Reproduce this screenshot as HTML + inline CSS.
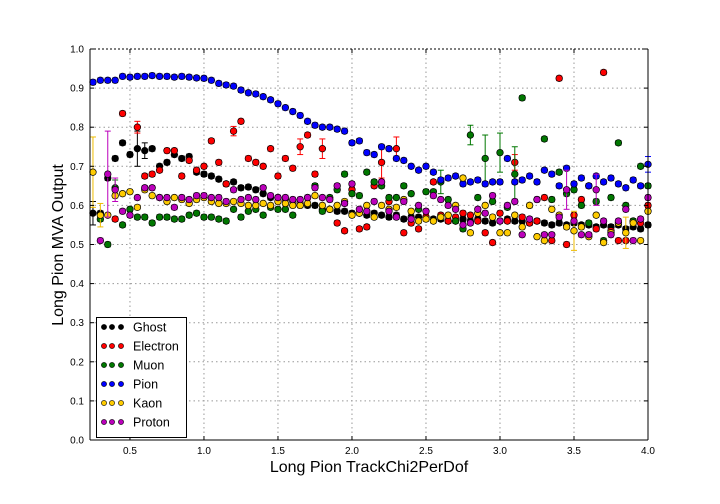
<!DOCTYPE html>
<html><head><meta charset="utf-8"><style>
body{margin:0;background:#fff;width:720px;height:504px;overflow:hidden}
svg{display:block;font-family:"Liberation Sans",sans-serif}
</style></head><body>
<svg id="chart" width="720" height="504">
<g id="grid"></g>
<g id="series"></g>
<g id="axes"></g>
<text x="369" y="472" text-anchor="middle" font-size="16">Long Pion TrackChi2PerDof</text>
<text transform="translate(63,245) rotate(-90)" text-anchor="middle" font-size="16">Long Pion MVA Output</text>
<g id="legend"></g>
</svg>
<script>
const xStart = 0.25, xStep = 0.05;
const seriesNames = ["Ghost","Electron","Muon","Pion","Kaon","Proton"];
const seriesColors = ["#000000","#ff0000","#007700","#0000ff","#ffcc00","#bb00bb"];
const ghostValues = [.58,.58,.67,.72,.76,.73,.745,.74,.745,.70,.71,.73,.72,.725,.685,.68,.675,.667,.655,.66,.645,.647,.64,.63,.62,.62,.615,.61,.605,.60,.60,.59,.59,.585,.585,.58,.58,.575,.58,.575,.57,.575,.565,.57,.57,.57,.565,.565,.56,.56,.565,.56,.565,.56,.555,.56,.565,.56,.56,.555,.56,.555,.55,.555,.55,.555,.55,.55,.545,.55,.545,.55,.54,.545,.54,.55];
const electronValues = [null,null,null,.565,.835,null,.80,.675,.68,.69,.74,.74,.675,.715,.69,.70,.765,.71,.655,.79,.815,.72,.71,.70,.745,.675,.72,.695,.75,.78,.68,.745,null,.555,.535,.64,.54,.545,.65,.71,.61,.745,.53,.555,.54,.57,.66,.575,.56,.57,.58,.575,.56,.53,.505,.58,.56,.71,.57,.555,.56,.62,.51,.925,.50,.575,.615,.65,.54,.94,.535,.51,.51,.56,.555,.60];
const muonValues = [null,.565,.50,.645,.55,.59,.57,.57,.555,.57,.57,.565,.565,.575,.58,.57,.57,.565,.56,.59,.57,.585,.59,.575,.595,.59,.59,.575,.60,.62,.65,.585,.62,.64,.68,.63,.625,.685,.66,.65,.62,.62,.65,.63,.59,.635,.635,.66,.615,.56,.54,.78,.62,.72,.61,.735,.595,.68,.875,.60,.615,.77,.615,.685,.63,.64,.60,.555,.61,.51,.62,.76,.60,.56,.70,.65];
const pionValues = [.915,.92,.92,.92,.93,.928,.93,.93,.932,.93,.93,.928,.93,.928,.926,.925,.92,.912,.908,.905,.895,.888,.885,.878,.87,.86,.85,.84,.83,.815,.805,.80,.80,.795,.79,.76,.765,.735,.73,.75,.745,.72,.715,.70,.69,.70,.685,.665,.67,.675,.655,.66,.665,.655,.66,.66,.72,.66,.665,.675,.66,.69,.68,.65,.695,.655,.67,.65,.675,.66,.67,.655,.645,.665,.65,.705];
const kaonValues = [.685,.575,.575,.625,.63,.635,.595,.64,.625,.62,.61,.62,.615,.605,.615,.62,.61,.605,.605,.61,.605,.60,.60,.605,.60,.61,.605,.60,.60,.605,.625,.60,.59,.60,.61,.575,.58,.60,.57,.60,.59,.595,.615,.585,.56,.565,.56,.57,.575,.60,.67,.53,.58,.60,.57,.53,.53,.575,.545,.60,.52,.51,.59,.575,.545,.535,.545,.52,.575,.505,.53,.555,.53,.555,.51,.585];
const protonValues = [null,.51,.68,.64,.585,.575,.62,.645,.645,.62,.62,.595,.62,.615,.625,.625,.62,.62,.61,.64,.615,.62,.615,.645,.625,.62,.62,.615,.615,.62,.645,.62,.615,.65,.605,.655,.59,.585,.61,.66,.585,.57,.61,.565,.60,.585,.625,.615,.60,.59,.55,.555,.59,.58,.625,.56,.60,.61,.525,.565,.615,.525,.525,.57,.64,.56,.525,.525,.64,.56,.525,.56,.59,.51,.565,.62];
const ghostErrors = [[0,.03],[6,.045],[7,.02]];
const electronErrors = [[6,.015],[19,.012],[28,.02],[31,.025],[39,.04],[41,.03],[57,.02]];
const muonErrors = [[3,.02],[51,.025],[53,.06],[55,.05],[57,.07],[47,.03]];
const pionErrors = [[75,.02]];
const kaonErrors = [[0,.09],[1,.03],[65,.05],[72,.04]];
const protonErrors = [[2,.11],[3,.03],[64,.05],[68,.04]];
const xTicks = [0.5,1.0,1.5,2.0,2.5,3.0,3.5,4.0];
const yTicks = [0.0,0.1,0.2,0.3,0.4,0.5,0.6,0.7,0.8,0.9,1.0];

const L=90,R=648,T=49,B=440,xMin=0.23,xMax=4.0;
const xs=v=>L+(v-xMin)/(xMax-xMin)*(R-L);
const ys=v=>B-v*(B-T);
const NS="http://www.w3.org/2000/svg";
function mk(tag,attrs,parent){const e=document.createElementNS(NS,tag);for(const k in attrs)e.setAttribute(k,attrs[k]);parent.appendChild(e);return e;}
const grid=document.getElementById('grid'),axes=document.getElementById('axes'),ser=document.getElementById('series'),leg=document.getElementById('legend');
mk('rect',{x:L,y:T,width:R-L,height:B-T,fill:'#fff'},grid);
xTicks.forEach(t=>{const x=xs(t);
 const g=mk('line',{x1:x,x2:x,y1:T,y2:B,stroke:'#999','stroke-dasharray':'1.5,3'},grid);
 
 mk('line',{x1:x,x2:x,y1:B,y2:B-4,stroke:'#000'},axes);mk('line',{x1:x,x2:x,y1:T,y2:T+4,stroke:'#000'},axes);
 const tx=mk('text',{x:x,y:B+14,'text-anchor':'middle','font-size':10},axes);tx.textContent=t.toFixed(1);
 });
yTicks.forEach(t=>{const y=ys(t);
 if(t<1){const g=mk('line',{x1:L,x2:R,y1:y,y2:y,stroke:'#999','stroke-dasharray':'1.5,3'},grid);
 }
 mk('line',{x1:L,x2:L+4,y1:y,y2:y,stroke:'#000'},axes);mk('line',{x1:R,x2:R-4,y1:y,y2:y,stroke:'#000'},axes);
 const tx=mk('text',{x:L-6,y:y+3.5,'text-anchor':'end','font-size':10},axes);tx.textContent=t.toFixed(1);
 });
mk('line',{x1:L,x2:R,y1:T,y2:T,stroke:'#000','stroke-dasharray':'2,2'},axes);
mk('line',{x1:L,x2:L,y1:T,y2:B,stroke:'#000'},axes);
mk('line',{x1:R,x2:R,y1:T,y2:B,stroke:'#000'},axes);
mk('line',{x1:L,x2:R,y1:B,y2:B,stroke:'#000'},axes);

const allValues=[ghostValues,electronValues,muonValues,pionValues,kaonValues,protonValues];
const allErrors=[ghostErrors,electronErrors,muonErrors,pionErrors,kaonErrors,protonErrors];
allValues.forEach((vals,si)=>{
 const col=seriesColors[si];
 const g=mk('g',{},ser);
 
 
 const errMap={};allErrors[si].forEach(([i,e])=>errMap[i]=e);
 vals.forEach((v,i)=>{ if(v===null)return;
  const x=xs(xStart+i*xStep),y=ys(v);const e=errMap[i]!==undefined?errMap[i]:0.006;
  const ec=col==='#ffcc00'?'#eebb00':col;
  mk('line',{x1:x,x2:x,y1:ys(v+e),y2:ys(v-e),stroke:ec,'stroke-width':1},g);
  mk('line',{x1:x-3,x2:x+3,y1:ys(v+e),y2:ys(v+e),stroke:ec,'stroke-width':1},g);
  mk('line',{x1:x-3,x2:x+3,y1:ys(v-e),y2:ys(v-e),stroke:ec,'stroke-width':1},g);
  const c=mk('circle',{cx:x,cy:y,r:3.3,fill:col,stroke:'#000','stroke-width':0.7},g);
  
  
 });
});
mk('rect',{x:96.5,y:317.5,width:90,height:120,fill:'#fff',stroke:'#000'},leg);
seriesNames.forEach((n,i)=>{const y=327+i*19;
 const g=mk('g',{},leg);
 
 
 [104,112,121].forEach(x=>mk('circle',{cx:x,cy:y,r:2.6,fill:seriesColors[i],stroke:'#000','stroke-width':0.6},g));
 const t=mk('text',{x:133,y:y+4.5,'font-size':12.5},g);t.textContent=n;});
</script>
</body></html>
